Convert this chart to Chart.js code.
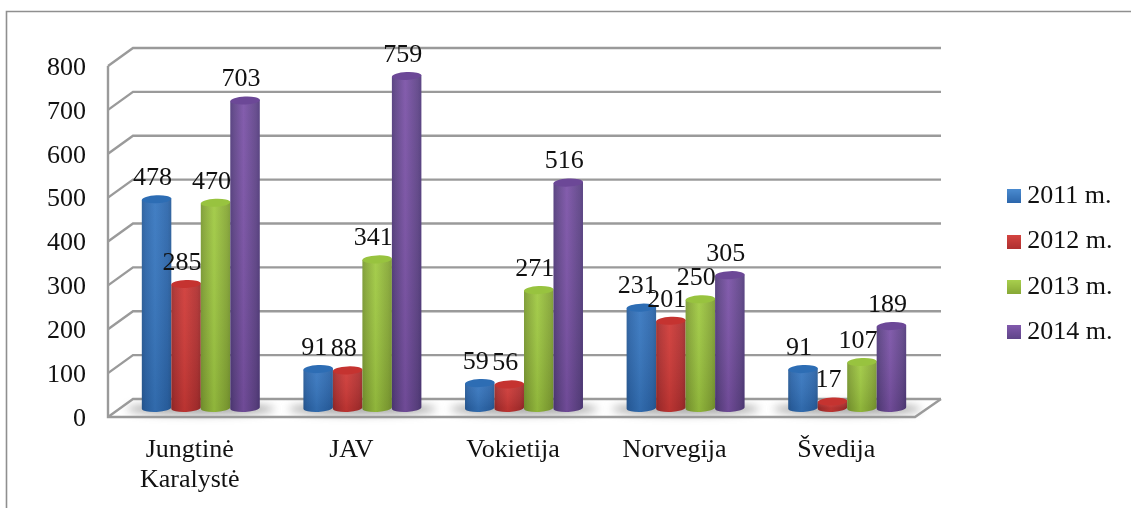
<!DOCTYPE html>
<html lang="lt">
<head>
<meta charset="utf-8">
<title>Chart</title>
<style>
html,body{margin:0;padding:0;background:#fff;}
#wrap{width:1131px;height:508px;position:relative;}
</style>
<script src="https://cdn.jsdelivr.net/npm/chart.js@4"></script>
</head>
<body>
<div id="wrap"><canvas id="c" width="1131" height="508"></canvas></div>
<script>
const categories = [['Jungtinė','Karalystė'],'JAV','Vokietija','Norvegija','Švedija'];
const series2011 = [478, 91, 59, 231, 91];
const series2012 = [285, 88, 56, 201, 17];
const series2013 = [470, 341, 271, 250, 107];
const series2014 = [703, 759, 516, 305, 189];
const seriesNames = ['2011 m.','2012 m.','2013 m.','2014 m.'];
const seriesValues = [series2011, series2012, series2013, series2014];
const palettes = [
  {edge:'#285c99', mid:'#3777c0', top:'#2d6db4', hi:'#4a8bd0', lo:'#2c66ab'},
  {edge:'#9b2b2a', mid:'#d03a37', top:'#c53330', hi:'#d64541', lo:'#b03030'},
  {edge:'#7a9a31', mid:'#a0ca42', top:'#98c33f', hi:'#a9d04e', lo:'#87a836'},
  {edge:'#513a7c', mid:'#7c53a8', top:'#6c4897', hi:'#8259ad', lo:'#5f4488'}
];
const FONT = '"Liberation Serif","Times New Roman",serif';
const depth = 9;

function legendSwatch(p){
  const cv = document.createElement('canvas');
  cv.width = 14; cv.height = 14;
  const g = cv.getContext('2d');
  const gr = g.createLinearGradient(0,0,0,14);
  gr.addColorStop(0,p.hi); gr.addColorStop(1,p.lo);
  g.fillStyle = gr; g.fillRect(0,0,14,14);
  return cv;
}

function drawCylinder(ctx, x, topY, baseY, w, p){
  const l = x - w/2, r = x + w/2, ry = 4, rx = w/2, tilt = -0.045;
  const gr = ctx.createLinearGradient(l,0,r,0);
  gr.addColorStop(0,p.edge); gr.addColorStop(0.12,p.lo); gr.addColorStop(0.45,p.mid);
  gr.addColorStop(0.88,p.lo); gr.addColorStop(1,p.edge);
  const vs = ctx.createLinearGradient(0,topY,0,baseY);
  vs.addColorStop(0,'rgba(255,255,255,0.06)');
  vs.addColorStop(1,'rgba(0,0,0,0.10)');
  for (const fill of [gr, vs]) {
    ctx.beginPath();
    ctx.ellipse(x, baseY, rx, ry, tilt, 0, Math.PI);
    ctx.lineTo(l, topY + 0.7);
    ctx.lineTo(r, topY - 0.7);
    ctx.closePath();
    ctx.fillStyle = fill;
    ctx.fill();
  }
  ctx.beginPath();
  ctx.ellipse(x, topY, rx, ry, tilt, 0, Math.PI*2);
  ctx.fillStyle = p.top;
  ctx.fill();
}

const cylinders = {
  id:'cylinders',
  beforeLayout(chart){
    const l = chart.legend;
    if (!l._fitWrapped) {
      const fit = l.fit;
      l.fit = function(){ fit.call(this); this.width = 203; };
      l._fitWrapped = true;
    }
  },
  afterLayout(chart){
    const l = chart.legend;
    const w = l.right - l.left, h = l.bottom - l.top;
    l.left = 994; l.right = l.left + w;
    l.top = 164; l.bottom = l.top + h;
  },
  beforeDraw(chart){
    const {ctx, chartArea:a, scales:{y}} = chart;
    ctx.save();
    ctx.fillStyle = '#fff';
    ctx.fillRect(0,0,chart.width,chart.height);
    // frame
    ctx.strokeStyle = '#8f8f8f'; ctx.lineWidth = 1.6;
    ctx.beginPath(); ctx.moveTo(6.5,508); ctx.lineTo(6.5,11.5); ctx.lineTo(1131,11.5); ctx.stroke();
    const fl = a.left - 12, fr = a.right - 13, bl = fl + 25, br = fr + 26;
    const y0 = y.getPixelForValue(0);
    // floor shadows
    ctx.save();
    ctx.filter = 'blur(4px)';
    const n = categories.length, band = (a.right-a.left)/n;
    ctx.fillStyle = 'rgba(110,110,110,0.6)';
    for (let i=0;i<n;i++){
      const cx = a.left + band*(i+.5);
      ctx.beginPath();
      ctx.ellipse(cx, y0+1, 74, 6, 0, 0, Math.PI*2);
      ctx.fill();
    }
    ctx.restore();
    // grid on walls
    ctx.strokeStyle = '#9a9a9a'; ctx.lineWidth = 2.4; ctx.lineJoin = 'miter';
    y.ticks.forEach(t=>{
      const py = y.getPixelForValue(t.value);
      ctx.beginPath();
      ctx.moveTo(fl, py+depth);
      ctx.lineTo(bl, py-depth);
      ctx.lineTo(br, py-depth);
      ctx.stroke();
    });
    ctx.beginPath();
    ctx.moveTo(fl, y.getPixelForValue(800)+depth);
    ctx.lineTo(fl, y0+depth);
    ctx.lineTo(fr, y0+depth);
    ctx.lineTo(br, y0-depth);
    ctx.stroke();
    ctx.restore();
  },
  beforeDatasetsDraw(chart){
    const {ctx, scales:{y}} = chart;
    const y0 = y.getPixelForValue(0);
    ctx.save();
    chart.getSortedVisibleDatasetMetas().forEach(meta=>{
      meta.data.forEach(el=>{
        drawCylinder(ctx, el.x, el.y + 1, y0, el.width, palettes[meta.index]);
      });
    });
    ctx.font = '26px ' + FONT;
    ctx.fillStyle = '#111';
    ctx.textAlign = 'center';
    ctx.textBaseline = 'middle';
    chart.getSortedVisibleDatasetMetas().forEach(meta=>{
      meta.data.forEach((el,i)=>{
        ctx.fillText(String(seriesValues[meta.index][i]), el.x - 4, el.y - 20);
      });
    });
    ctx.restore();
    return false;
  }
};

new Chart(document.getElementById('c'), {
  type:'bar',
  data:{
    labels:categories,
    datasets:seriesNames.map((name,i)=>({
      label:name,
      data:seriesValues[i],
      backgroundColor:palettes[i].mid,
      categoryPercentage:0.73,
      barPercentage:1
    }))
  },
  plugins:[cylinders],
  options:{
    responsive:false,
    animation:false,
    layout:{padding:{top:57,left:0,right:0,bottom:0}},
    plugins:{
      title:{display:false},
      tooltip:{enabled:false},
      legend:{
        position:'right',
        align:'start',
        labels:{
          font:{family:FONT,size:26},
          color:'#111',
          usePointStyle:true,
          pointStyleWidth:1,
          padding:19.3,
          generateLabels(chart){
            const items = Chart.defaults.plugins.legend.labels.generateLabels(chart);
            items.forEach((it,i)=>{ it.pointStyle = legendSwatch(palettes[i]); });
            return items;
          }
        }
      }
    },
    scales:{
      x:{
        grid:{display:false},
        border:{display:false},
        afterFit(s){ s.height = 100; },
        ticks:{
          font:{family:FONT,size:26,lineHeight:1.15},
          color:'#111',
          padding:19,
          labelOffset:-11,
          maxRotation:0,minRotation:0,autoSkip:false
        }
      },
      y:{
        min:0,max:800,
        grid:{display:false},
        border:{display:false},
        afterFit(s){ s.width = 120; },
        ticks:{
          stepSize:100,
          font:{family:FONT,size:26},
          color:'#111',
          padding:26,
          labelOffset:11
        }
      }
    }
  }
});
</script>
</body>
</html>
